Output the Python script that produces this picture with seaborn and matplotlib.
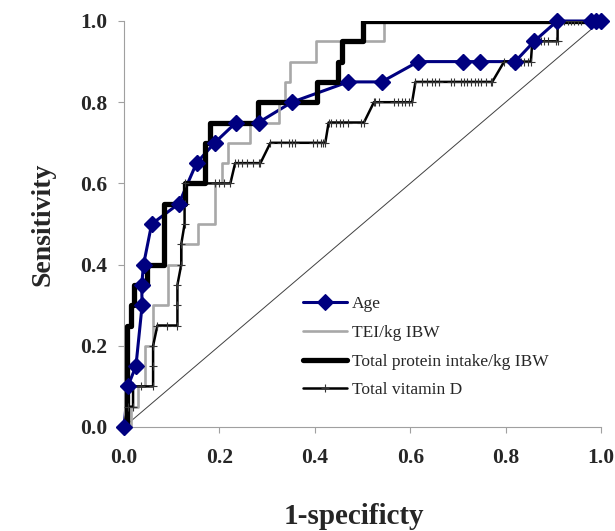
import matplotlib
matplotlib.use("Agg")
import matplotlib.pyplot as plt
import seaborn as sns
import pandas as pd

# ---- data ----
age_fpr = [0.0, 0.008, 0.025, 0.038, 0.037, 0.041, 0.058, 0.115, 0.152, 0.19, 0.235, 0.282,
           0.352, 0.47, 0.54, 0.617, 0.71, 0.747, 0.82, 0.86, 0.908, 0.978, 0.99, 1.0]
age_tpr = [0.0, 0.10, 0.15, 0.30, 0.35, 0.40, 0.50, 0.55, 0.65, 0.70, 0.75, 0.75,
           0.80, 0.85, 0.85, 0.90, 0.90, 0.90, 0.90, 0.95, 1.0, 1.0, 1.0, 1.0]

tei_fpr = [0.0, 0.015, 0.015, 0.03, 0.03, 0.043, 0.043, 0.061, 0.061, 0.092, 0.092, 0.12,
           0.12, 0.155, 0.155, 0.19, 0.19, 0.205, 0.205, 0.219, 0.219, 0.265, 0.265, 0.324,
           0.324, 0.337, 0.337, 0.347, 0.347, 0.403, 0.403, 0.546, 0.546, 1.0]
tei_tpr = [0.0, 0.0, 0.05, 0.05, 0.10, 0.10, 0.20, 0.20, 0.30, 0.30, 0.40, 0.40,
           0.45, 0.45, 0.50, 0.50, 0.60, 0.60, 0.65, 0.65, 0.70, 0.70, 0.75, 0.75,
           0.80, 0.80, 0.85, 0.85, 0.90, 0.90, 0.95, 0.95, 1.0, 1.0]

prot_fpr = [0.0, 0.006, 0.006, 0.014, 0.014, 0.022, 0.022, 0.048, 0.048, 0.084, 0.084, 0.127,
            0.127, 0.17, 0.17, 0.18, 0.18, 0.28, 0.28, 0.405, 0.405, 0.448, 0.448, 0.457,
            0.457, 0.50, 0.50, 1.0]
prot_tpr = [0.0, 0.0, 0.25, 0.25, 0.30, 0.30, 0.35, 0.35, 0.40, 0.40, 0.55, 0.55,
            0.60, 0.60, 0.70, 0.70, 0.75, 0.75, 0.80, 0.80, 0.85, 0.85, 0.90, 0.90,
            0.95, 0.95, 1.0, 1.0]

vitd_fpr = [0.0, 0.008, 0.019, 0.019, 0.035, 0.061, 0.061, 0.061, 0.07, 0.09, 0.112, 0.112,
            0.112, 0.12, 0.12, 0.127, 0.127, 0.127,
            0.19, 0.20, 0.21, 0.223,
            0.233, 0.24, 0.247, 0.258, 0.27, 0.282, 0.286,
            0.307, 0.33, 0.345, 0.352, 0.359, 0.397, 0.405, 0.412, 0.418, 0.422,
            0.429, 0.435, 0.445, 0.452, 0.46, 0.47, 0.497, 0.503,
            0.524, 0.527, 0.534, 0.565, 0.575, 0.583, 0.59, 0.597, 0.604,
            0.611, 0.625, 0.635, 0.646, 0.653, 0.66, 0.685, 0.692, 0.706, 0.712, 0.72, 0.728,
            0.735, 0.742, 0.748, 0.758, 0.769, 0.772,
            0.797, 0.81, 0.825, 0.832, 0.839, 0.846, 0.853,
            0.856, 0.874, 0.881, 0.888, 0.905, 0.909,
            0.909, 0.916, 0.923, 0.93, 0.937, 0.944, 0.951, 0.958, 1.0]
vitd_tpr = [0.0, 0.05, 0.05, 0.10, 0.10, 0.10, 0.15, 0.20, 0.25, 0.25, 0.25, 0.30,
            0.35, 0.40, 0.45, 0.50, 0.55, 0.60,
            0.60, 0.60, 0.60, 0.60,
            0.65, 0.65, 0.65, 0.65, 0.65, 0.65, 0.65,
            0.70, 0.70, 0.70, 0.70, 0.70, 0.70, 0.70, 0.70, 0.70, 0.70,
            0.75, 0.75, 0.75, 0.75, 0.75, 0.75, 0.75, 0.75,
            0.80, 0.80, 0.80, 0.80, 0.80, 0.80, 0.80, 0.80, 0.80,
            0.85, 0.85, 0.85, 0.85, 0.85, 0.85, 0.85, 0.85, 0.85, 0.85, 0.85, 0.85,
            0.85, 0.85, 0.85, 0.85, 0.85, 0.85,
            0.90, 0.90, 0.90, 0.90, 0.90, 0.90, 0.90,
            0.95, 0.95, 0.95, 0.95, 0.95, 0.95,
            1.0, 1.0, 1.0, 1.0, 1.0, 1.0, 1.0, 1.0, 1.0]

diag_x = [0.0, 1.0]
diag_y = [0.0, 1.0]

series_labels = ["Age", "TEI/kg IBW", "Total protein intake/kg IBW", "Total vitamin D"]
tick_values = [0.0, 0.2, 0.4, 0.6, 0.8, 1.0]
tick_labels = ["0.0", "0.2", "0.4", "0.6", "0.8", "1.0"]

# ---- style ----
sns.set_style("ticks")
plt.rcParams["font.family"] = ["Liberation Serif", "DejaVu Serif"]

fig = plt.figure(figsize=(6.15, 5.31), dpi=100)
ax = fig.add_axes([124 / 615, 1 - 427 / 531, 477 / 615, 406 / 531])

navy = "#000080"
gray = "#a8a8a8"

# diagonal reference line
sns.lineplot(x=diag_x, y=diag_y, ax=ax, color="#404040", lw=0.7, sort=False,
             estimator=None, zorder=1)

# Age
sns.lineplot(data=pd.DataFrame({"x": age_fpr, "y": age_tpr}), x="x", y="y", ax=ax,
             sort=False, estimator=None, color=navy, lw=2.2, marker="D", markersize=7.8,
             markerfacecolor=navy, markeredgecolor=navy, markeredgewidth=0.8,
             label=series_labels[0], zorder=2, clip_on=False)
# TEI
sns.lineplot(data=pd.DataFrame({"x": tei_fpr, "y": tei_tpr}), x="x", y="y", ax=ax,
             sort=False, estimator=None, color=gray, lw=1.9,
             label=series_labels[1], zorder=3)
# Protein
sns.lineplot(data=pd.DataFrame({"x": prot_fpr, "y": prot_tpr}), x="x", y="y", ax=ax,
             sort=False, estimator=None, color="black", lw=3.8,
             label=series_labels[2], zorder=4)
# Vitamin D
sns.lineplot(data=pd.DataFrame({"x": vitd_fpr, "y": vitd_tpr}), x="x", y="y", ax=ax,
             sort=False, estimator=None, color="black", lw=1.8, marker="+", markersize=6,
             markeredgecolor="#333333", markeredgewidth=0.8,
             label=series_labels[3], zorder=5)
# Age markers on top (as Excel draws markers above lines)
sns.lineplot(data=pd.DataFrame({"x": age_fpr, "y": age_tpr}), x="x", y="y", ax=ax,
             sort=False, estimator=None, linestyle="", marker="D", markersize=7.8,
             markerfacecolor=navy, markeredgecolor=navy, markeredgewidth=0.8,
             zorder=6, clip_on=False, legend=False)

ax.set_xlim(0, 1)
ax.set_ylim(0, 1)
ax.set_xticks(tick_values)
ax.set_yticks(tick_values)
ax.set_xticklabels(tick_labels, fontsize=15.5, fontweight="bold")
ax.set_yticklabels(tick_labels, fontsize=15.5, fontweight="bold")
ax.tick_params(axis="both", direction="out", length=4, width=0.8, color="#a0a0a0")
ax.tick_params(axis="x", pad=11)
ax.tick_params(axis="y", pad=8)

for side in ["top", "right"]:
    ax.spines[side].set_visible(False)
for side in ["left", "bottom"]:
    ax.spines[side].set_color("#a0a0a0")
    ax.spines[side].set_linewidth(0.8)

ax.set_xlabel("1-specificty", fontsize=21, fontweight="bold", labelpad=25)
ax.xaxis.label.set_x(0.482)
ax.set_ylabel("Sensitivity", fontsize=20, fontweight="bold", labelpad=18)

leg = ax.legend(loc="upper left", bbox_to_anchor=(0.376, 0.322), frameon=False,
                fontsize=12.5, handlelength=2.5, handletextpad=0.3, labelspacing=0.72,
                borderpad=0, borderaxespad=0, numpoints=1)

fig.savefig("out.png", dpi=100)
